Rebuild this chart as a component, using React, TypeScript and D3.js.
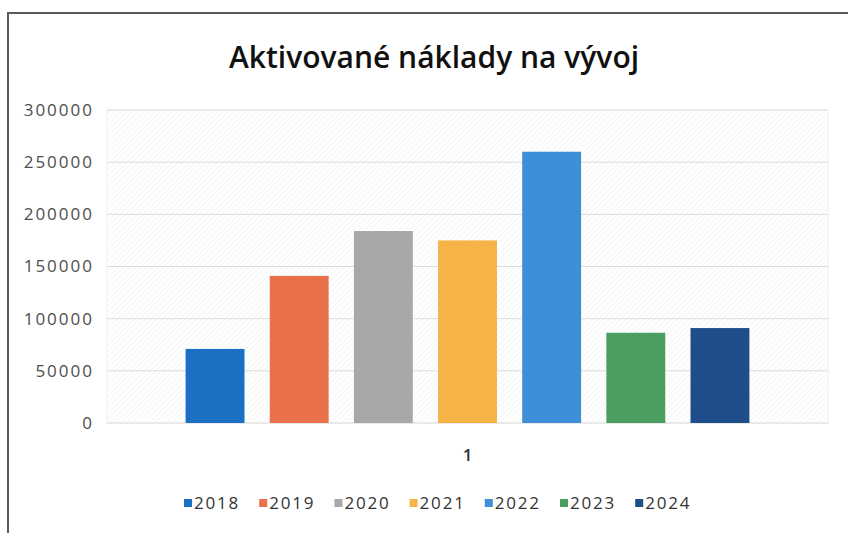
import React from "react";
import * as d3 from "d3";

// data
const categories = ["1"];
const years = ["2018", "2019", "2020", "2021", "2022", "2023", "2024"];
const values = [71000, 141000, 184000, 175000, 260000, 86500, 91000];
const colors = ["#1b70c4", "#e9714a", "#a8a8a8", "#f5b445", "#3e8ed8", "#4c9e5e", "#1f4c8a"];
const yTicks = [0, 50000, 100000, 150000, 200000, 250000, 300000];
const title = "Aktivované náklady na vývoj";

export default function App() {
    const ref = React.useRef<SVGSVGElement>(null);

    React.useEffect(() => {
        document.body.style.margin = "0";
        drawChart();
    }, []);

    function drawChart() {
        const width = 848;
        const height = 533;
        const font = "'Open Sans', 'Noto Sans', sans-serif";

        const plot = { left: 107, right: 828, top: 110, bottom: 423 };

        const svg = d3.select(ref.current);
        svg.selectAll("*").remove();

        svg.append("rect").attr("width", width).attr("height", height).attr("fill", "white");

        // frame of the chart (scanned edge)
        svg.append("path")
            .attr("d", `M8,${height} L8,13 L${width},13`)
            .attr("fill", "none")
            .attr("stroke", "#5a5a5a")
            .attr("stroke-width", 2);

        // light diagonal hatch behind the plot
        const defs = svg.append("defs");
        const pat = defs.append("pattern")
            .attr("id", "hatch")
            .attr("patternUnits", "userSpaceOnUse")
            .attr("width", 4)
            .attr("height", 4)
            .attr("patternTransform", "rotate(45)");
        pat.append("rect").attr("width", 4).attr("height", 4).attr("fill", "white");
        pat.append("line")
            .attr("x1", 0).attr("y1", 0).attr("x2", 0).attr("y2", 4)
            .attr("stroke", "#efefef")
            .attr("stroke-width", 1.2);

        svg.append("rect")
            .attr("x", plot.left)
            .attr("y", plot.top)
            .attr("width", plot.right - plot.left)
            .attr("height", plot.bottom - plot.top)
            .attr("fill", "url(#hatch)")
            .attr("stroke", "#f0f0f0");

        const y = d3.scaleLinear().domain([0, 300000]).range([plot.bottom, plot.top]);

        const x0 = d3.scaleBand()
            .domain(categories)
            .range([plot.left, plot.right])
            .paddingInner(0)
            .paddingOuter(0.112);

        const x1 = d3.scaleBand()
            .domain(years)
            .range([0, x0.bandwidth()])
            .paddingInner(0.3)
            .paddingOuter(0.15);

        // gridlines
        svg.append("g")
            .selectAll("line")
            .data(yTicks)
            .enter()
            .append("line")
            .attr("x1", plot.left)
            .attr("x2", plot.right)
            .attr("y1", (d) => y(d))
            .attr("y2", (d) => y(d))
            .attr("stroke", "#dcdcdc")
            .attr("stroke-width", 1);

        // y tick labels
        svg.append("g")
            .selectAll("text")
            .data(yTicks)
            .enter()
            .append("text")
            .attr("x", 94)
            .attr("y", (d) => y(d))
            .attr("dy", "0.35em")
            .attr("text-anchor", "end")
            .attr("font-family", font)
            .attr("font-size", 17)
            .attr("letter-spacing", 2)
            .attr("fill", "#4d4d4d")
            .text((d) => String(d));

        // bars
        const group = svg.append("g")
            .selectAll("g")
            .data(categories)
            .enter()
            .append("g")
            .attr("transform", (c) => `translate(${x0(c)},0)`);

        group.selectAll("rect")
            .data(years.map((yr, i) => ({ yr, v: values[i], c: colors[i] })))
            .enter()
            .append("rect")
            .attr("x", (d) => x1(d.yr))
            .attr("y", (d) => y(d.v))
            .attr("width", x1.bandwidth())
            .attr("height", (d) => y(0) - y(d.v))
            .attr("fill", (d) => d.c);

        // category label
        svg.append("g")
            .selectAll("text")
            .data(categories)
            .enter()
            .append("text")
            .attr("x", (c) => x0(c) + x0.bandwidth() / 2)
            .attr("y", 455)
            .attr("dy", "0.35em")
            .attr("text-anchor", "middle")
            .attr("font-family", font)
            .attr("font-size", 17)
            .attr("font-weight", 600)
            .attr("fill", "#333")
            .text((c) => c);

        // title
        svg.append("text")
            .attr("x", 434)
            .attr("y", 57)
            .attr("dy", "0.35em")
            .attr("text-anchor", "middle")
            .attr("font-family", font)
            .attr("font-size", 30)
            .attr("font-weight", 600)
            .attr("fill", "#111")
            .text(title);

        // legend
        const legend = svg.append("g")
            .selectAll("g")
            .data(years)
            .enter()
            .append("g")
            .attr("transform", (d, i) => `translate(${184 + i * 75.2},503)`);

        legend.append("rect")
            .attr("x", 0)
            .attr("y", -4)
            .attr("width", 8)
            .attr("height", 8)
            .attr("fill", (d, i) => colors[i]);

        legend.append("text")
            .attr("x", 10)
            .attr("y", 0)
            .attr("dy", "0.35em")
            .attr("font-family", font)
            .attr("font-size", 17)
            .attr("letter-spacing", 1.8)
            .attr("fill", "#333")
            .text((d) => d);
    }

    return <svg ref={ref} width={848} height={533} style={{ display: "block" }} />;
}
